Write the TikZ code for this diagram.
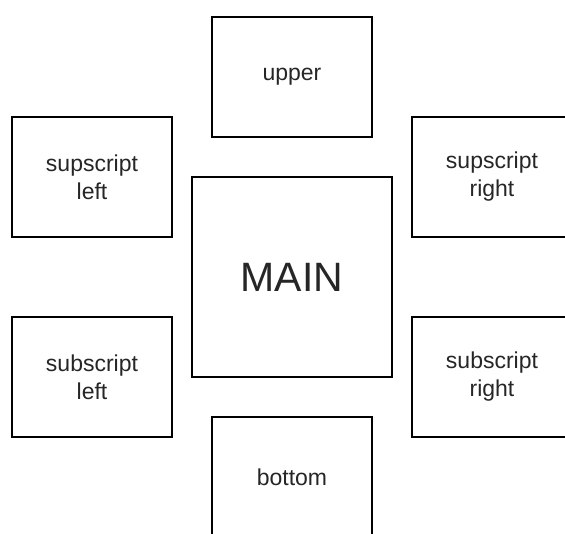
\documentclass[tikz,border=0pt]{standalone}
\usepackage{fontspec}
\setmainfont{Liberation Sans}
\begin{document}
\begin{tikzpicture}[x=1pt,y=1pt,
  box/.style={draw=black, line width=1.1pt, fill=white, inner sep=0pt, align=center,
    text=black!85, font=\fontsize{23}{28}\selectfont},
  small/.style={box, minimum width=160pt, minimum height=120pt},
  big/.style={box, minimum width=200pt, minimum height=200pt, font=\fontsize{41}{48}\selectfont}]
\useasboundingbox (0,0) rectangle (565,534);
\clip (0,0) rectangle (565,534);
\fill[white] (0,0) rectangle (565,534);
\node[small] (upper) at (292,457) {upper};
\node[small] (supl) at (92,357) {supscript\\left};
\node[small] (supr) at (492,357) {supscript\\right};
\node[big] (main) at (292,257) {MAIN};
\node[small] (subl) at (92,157) {subscript\\left};
\node[small] (subr) at (492,157) {subscript\\right};
\node[small] (bottom) at (292,57) {bottom};
\end{tikzpicture}
\end{document}
